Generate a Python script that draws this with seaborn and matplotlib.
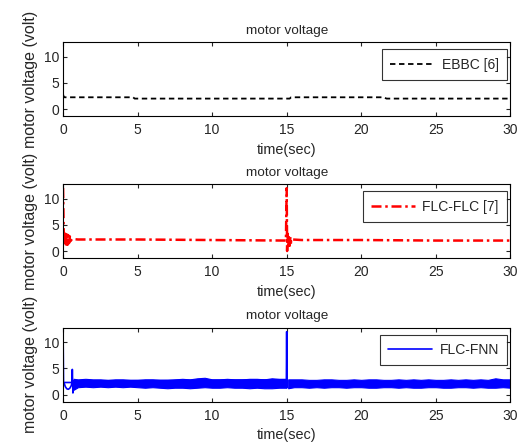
import numpy as np
import pandas as pd
import matplotlib
matplotlib.use("Agg")
import matplotlib.pyplot as plt
import seaborn as sns

sns.set_theme(style="ticks")
plt.rcParams['font.family'] = ['Liberation Sans', 'DejaVu Sans']
plt.rcParams['xtick.direction'] = 'in'
plt.rcParams['ytick.direction'] = 'in'

# ---- data ----
ebbc_t = [0, 0.05, 0.1, 4.7, 4.8, 15.2, 15.3, 21.5, 21.7, 30]
ebbc_v = [2.8, 2.3, 2.25, 2.25, 2.0, 2.0, 2.25, 2.25, 2.0, 2.0]

flc_t = [0, 0.02, 0.05, 0.1, 0.15, 0.2, 0.25, 0.3, 0.35, 0.4, 0.45, 0.5, 0.6, 1, 5, 10,
         14.95, 15.0, 15.03, 15.06, 15.1, 15.15, 15.2, 15.25, 15.3, 15.4, 16, 20, 25, 30]
flc_v = [12, 8, 2.3, 1.2, 3.3, 1.0, 3.5, 1.2, 3.0, 1.5, 2.8, 1.9, 2.3, 2.2, 2.2, 2.1,
         2.0, 12, 0.0, 3.3, 0.5, 3.0, 1.0, 2.7, 1.6, 2.2, 2.1, 2.1, 2.0, 2.0]

fnn_t = [0, 0.03, 0.6, 0.62, 0.66, 0.7, 14.98, 15.0, 15.02, 15.05]
fnn_v = [12, 2.3, 2.3, 4.8, 0.3, 2.6, 2.8, 12, 1.3, 2.6]
fnn_arc_t = [0.08, 0.15, 0.25, 0.35, 0.45, 0.55, 0.6]
fnn_arc_v = [2.1, 1.5, 1.1, 1.0, 1.2, 1.7, 2.3]

band_t = [0.7, 1, 1.5, 2, 2.5, 3, 3.5, 4, 4.5, 5, 5.5, 6, 6.5, 7, 7.5, 8, 8.5, 9, 9.5, 10,
          10.5, 11, 11.5, 12, 12.5, 13, 13.5, 14, 14.5, 14.97,
          15.1, 15.5, 16, 16.5, 17, 17.5, 18, 18.5, 19, 19.5, 20, 20.5, 21, 21.5, 22, 22.5,
          23, 23.5, 24, 24.5, 25, 25.5, 26, 26.5, 27, 27.5, 28, 28.5, 29, 29.5, 30]
band_lo = [0.9, 1.4, 1.5, 1.4, 1.5, 1.4, 1.5, 1.4, 1.5, 1.4, 1.3, 1.4, 1.3, 1.2, 1.3, 1.3, 1.2,
           1.3, 1.4, 1.3, 1.3, 1.4, 1.3, 1.3, 1.2, 1.3, 1.2, 1.2, 1.3, 1.3,
           1.2, 1.4, 1.4, 1.3, 1.4, 1.3, 1.4, 1.4, 1.3, 1.4, 1.4, 1.3, 1.3, 1.4, 1.4, 1.3,
           1.4, 1.3, 1.3, 1.4, 1.4, 1.3, 1.3, 1.4, 1.4, 1.3, 1.4, 1.3, 1.3, 1.4, 1.3]
band_hi = [3.0, 2.9, 3.0, 2.9, 2.9, 2.8, 2.9, 2.9, 2.8, 2.8, 2.9, 2.9, 2.8, 2.8, 2.9, 3.0, 2.9,
           3.1, 3.2, 2.9, 2.9, 3.0, 2.9, 2.9, 3.0, 3.0, 2.9, 3.1, 3.0, 3.0,
           2.9, 2.9, 2.9, 2.8, 2.8, 2.9, 2.9, 2.8, 2.8, 2.9, 2.8, 2.9, 2.9, 2.8, 2.8, 2.9,
           2.8, 2.9, 2.8, 2.9, 2.8, 2.8, 2.9, 2.8, 2.9, 2.8, 2.9, 2.8, 3.1, 2.9, 2.9]

title = "motor voltage"
xlab = "time(sec)"
ylab = "motor voltage (volt)"
xticks = [0, 5, 10, 15, 20, 25, 30]
yticks = [0, 5, 10]

fig = plt.figure(figsize=(5.17, 4.45), dpi=100)
L, W, H = 0.122, 0.865, 0.166
bottoms = [0.739, 0.420, 0.0975]
axes = [fig.add_axes([L, b, W, H]) for b in bottoms]

sns.lineplot(x=ebbc_t, y=ebbc_v, ax=axes[0], color='black', linestyle='--',
             linewidth=1.3, sort=False, estimator=None, label='EBBC [6]')
axes[0].get_lines()[0].set_dashes([3, 2])

sns.lineplot(x=flc_t, y=flc_v, ax=axes[1], color='red', linewidth=1.8,
             sort=False, estimator=None, label='FLC-FLC [7]')
axes[1].get_lines()[0].set_dashes([4, 1.5, 1, 1.5])

split = 30
axes[2].fill_between(band_t[:split], band_lo[:split], band_hi[:split], color='blue',
                     linewidth=0.8, edgecolor='blue')
axes[2].fill_between(band_t[split:], band_lo[split:], band_hi[split:], color='blue',
                     linewidth=0.8, edgecolor='blue')
sns.lineplot(x=fnn_t, y=fnn_v, ax=axes[2], color='blue', linewidth=1.2,
             sort=False, estimator=None, label='FLC-FNN')
sns.lineplot(x=fnn_arc_t, y=fnn_arc_v, ax=axes[2], color='blue', linewidth=1.2,
             sort=False, estimator=None)

for ax in axes:
    ax.set_xlim(0, 30)
    ax.set_ylim(-1.35, 12.75)
    ax.set_xticks(xticks)
    ax.set_yticks(yticks)
    ax.tick_params(axis='both', labelsize=10, length=3, width=0.8,
                   top=True, right=True)
    ax.tick_params(axis='x', pad=5)
    ax.tick_params(axis='y', pad=3)
    for s in ax.spines.values():
        s.set_visible(True)
        s.set_color('black')
        s.set_linewidth(0.8)
    ax.set_title(title, fontsize=9.7, pad=6)
    ax.set_xlabel(xlab, fontsize=10.4, labelpad=4)
    ax.set_ylabel(ylab, fontsize=11.5, labelpad=4)
    leg = ax.legend(loc='upper right', bbox_to_anchor=(0.993, 0.905), fontsize=10,
                    frameon=True, fancybox=False, handlelength=3.2, borderpad=0.6,
                    handletextpad=0.5, borderaxespad=0)
    leg.get_frame().set_edgecolor('black')
    leg.get_frame().set_linewidth(0.8)

fig.savefig('out.png', dpi=100)
